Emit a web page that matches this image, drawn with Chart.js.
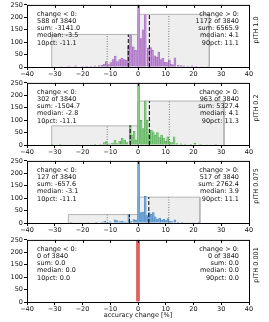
<!DOCTYPE html>
<html>
<head>
<meta charset="utf-8">
<script src="https://cdn.jsdelivr.net/npm/chart.js@4.4.0/dist/chart.umd.min.js"></script>
<style>
  body { margin: 0; background: #fff; }
  #wrap { position: relative; width: 269px; height: 322px; }
  canvas { position: absolute; left: 0; }
</style>
</head>
<body>
<div id="wrap">
  <canvas id="c0" width="269" height="78" style="top:0px"></canvas>
  <canvas id="c1" width="269" height="78" style="top:78px"></canvas>
  <canvas id="c2" width="269" height="78" style="top:156px"></canvas>
  <canvas id="c3" width="269" height="87" style="top:235px"></canvas>
</div>
<script>
// histogram bins (bin centre, accuracy change in %) and counts per panel
const binsP1 = [-31, -27.5, -25, -22.5, -20, -18.5, -17, -15.5, -14, -13, -12.2, -11.4, -10.6, -9.8, -9, -8.2, -7.4, -6.6, -5.8, -5, -4.2, -3.4, -2.7, -1.7, -0.9, 0.2, 1.1, 1.8, 2.6, 3.7, 4.5, 5.2, 6, 6.8, 7.5, 8.3, 9, 9.8, 10.5, 11.3, 12, 12.7, 13.3, 14.5, 15.5, 16.5, 18, 19.5, 21, 23, 25];
const countsP1 = [2, 2, 4, 5, 3, 4, 3, 5, 6, 8, 12, 22, 10, 18, 30, 44, 22, 30, 35, 30, 28, 85, 128, 81, 67, 300, 114, 150, 210, 76, 78, 67, 45, 40, 60, 30, 35, 20, 18, 28, 12, 9, 37, 8, 6, 5, 4, 5, 3, 2, 2];

const binsP2 = [-31, -28, -22, -17, -15.5, -13.5, -12.2, -11.4, -10.3, -9.2, -8.3, -7.5, -6.6, -5.7, -4.8, -4, -2.8, -2.1, -1.4, -0.7, 0.2, 1.1, 1.8, 2.6, 3.3, 4, 4.8, 5.5, 6.2, 7, 7.8, 8.5, 9.2, 10, 10.7, 11.5, 12.3, 13, 14, 15.5, 17, 19, 20.5, 22.5, 25, 28];
const countsP2 = [1, 1, 2, 2, 3, 4, 10, 14, 5, 8, 20, 6, 15, 27, 20, 10, 79, 40, 55, 20, 300, 99, 66, 178, 99, 45, 60, 53, 40, 50, 30, 40, 27, 15, 33, 12, 10, 33, 6, 5, 4, 3, 7, 4, 2, 1];

const binsP3 = [-24, -21, -18, -15, -13, -12, -11, -10, -8.3, -7.5, -6.5, -5.8, -5, -4.2, -3.3, -2.5, -1.5, -0.7, 0.2, 1.1, 1.8, 2.6, 3.2, 4, 4.7, 5.5, 6.2, 7, 7.8, 8.5, 9.3, 10, 10.8, 11.5, 12.3, 13.3, 14.5, 16, 18, 20, 22];
const countsP3 = [1, 2, 2, 3, 4, 8, 3, 5, 13, 10, 6, 8, 5, 4, 34, 6, 14, 12, 300, 42, 44, 107, 30, 42, 35, 42, 25, 15, 20, 12, 15, 10, 18, 8, 6, 13, 4, 3, 2, 2, 1];

const binsP4 = [0];
const countsP4 = [3840];

const panelLabels = ['pITH 1.0', 'pITH 0.2', 'pITH 0.075', 'pITH 0.001'];

// summary boxes: left box spans [boxNegStart, 0], right box [0, boxPosEnd]
const boxNegStart = [-31.1, -31.1, -25.1, null];
const boxPosEnd = [25.7, 31.0, 22.3, null];
const boxNegHeight = [131, 77, 34, 0];
const boxPosHeight = [212, 177, 104, 0];

const medianNeg = [-3.5, -2.8, -3.1, 0.0];
const medianPos = [4.1, 4.1, 3.9, 0.0];
const pct10 = [-11.1, -11.1, -11.1, 0.0];
const pct90 = [11.1, 11.3, 11.1, 0.0];

const countNeg = [588, 302, 127, 0];
const countPos = [1172, 963, 517, 0];
const sumNeg = [-3141.0, -1504.7, -657.6, 0.0];
const sumPos = [6565.9, 5327.4, 2762.4, 0.0];
const total = 3840;

const barFill = ['#c391d6', '#88cd88', '#78acdb', '#e35d5d'];
const barEdge = ['#9d62bb', '#4fa64f', '#4382c0', '#d53a3a'];

const allBins = [binsP1, binsP2, binsP3, binsP4];
const allCounts = [countsP1, countsP2, countsP3, countsP4];

const FONT = '"DejaVu Sans", sans-serif';

// Draws the frame, inner top ticks, stats text and the right-hand label
const makeDecor = (i) => ({
    id: 'decor' + i,
    afterDatasetsDraw(chart) {
        const { ctx, chartArea: a } = chart;
        const xs = chart.scales.x;
        ctx.save();
        ctx.strokeStyle = '#000';
        ctx.lineWidth = 1;
        ctx.strokeRect(a.left + 0.5, a.top + 0.5, a.right - a.left, a.bottom - a.top);
        ctx.beginPath();
        for (let v = -30; v <= 30; v += 10) {
            const px = Math.round(xs.getPixelForValue(v)) + 0.5;
            ctx.moveTo(px, a.top);
            ctx.lineTo(px, a.top + 3);
        }
        ctx.stroke();

        const neg = [
            'change < 0:',
            `${countNeg[i]} of ${total}`,
            `sum: ${sumNeg[i].toFixed(1)}`,
            `median: ${medianNeg[i].toFixed(1)}`,
            `10pct: ${pct10[i].toFixed(1)}`
        ];
        const pos = [
            'change > 0:',
            `${countPos[i]} of ${total}`,
            `sum: ${sumPos[i].toFixed(1)}`,
            `median: ${medianPos[i].toFixed(1)}`,
            `90pct: ${pct90[i].toFixed(1)}`
        ];
        ctx.fillStyle = '#111';
        ctx.font = '6.5px ' + FONT;
        ctx.textBaseline = 'middle';
        ctx.textAlign = 'left';
        neg.forEach((t, k) => ctx.fillText(t, a.left + 10, a.top + 9 + k * 7.3));
        ctx.textAlign = 'right';
        pos.forEach((t, k) => ctx.fillText(t, a.right - 10, a.top + 9 + k * 7.3));

        ctx.save();
        ctx.translate(256, (a.top + a.bottom) / 2 - 6);
        ctx.rotate(-Math.PI / 2);
        ctx.textAlign = 'center';
        ctx.fillText(panelLabels[i], 0, 0);
        ctx.restore();

        if (i === 3) {
            ctx.textAlign = 'center';
            ctx.fillText('accuracy change [%]', (a.left + a.right) / 2, 80);
        }
        ctx.restore();
    }
});

// vertical marker line from 0 up to height h
const vline = (x, h, dash, color) => ({
    type: 'line',
    data: [{ x: x, y: 0 }, { x: x, y: h }],
    borderColor: color,
    borderWidth: 1,
    borderDash: dash,
    pointRadius: 0,
    fill: false,
    order: 1
});

const box = (x0, x1, h) => ({
    type: 'line',
    data: [{ x: x0, y: 0 }, { x: x0, y: h }, { x: x1, y: h }, { x: x1, y: 0 }],
    borderColor: '#b4b4b4',
    borderWidth: 1,
    backgroundColor: '#eeeeee',
    pointRadius: 0,
    tension: 0,
    fill: 'origin',
    order: 3
});

for (let i = 0; i < 4; i++) {
    const datasets = [{
        type: 'bar',
        data: allBins[i].map((b, k) => ({ x: b, y: allCounts[i][k] })),
        backgroundColor: barFill[i],
        borderColor: barEdge[i],
        borderWidth: 0.6,
        barThickness: i === 3 ? 3 : 2,
        order: 2
    }];
    if (countNeg[i] > 0) {
        datasets.push(box(boxNegStart[i], 0, boxNegHeight[i]));
        datasets.push(box(0, boxPosEnd[i], boxPosHeight[i]));
        datasets.push(vline(medianNeg[i], boxNegHeight[i], [4, 2], '#000'));
        datasets.push(vline(medianPos[i], boxPosHeight[i], [4, 2], '#000'));
        datasets.push(vline(pct10[i], boxNegHeight[i], [1, 1.5], '#777'));
        datasets.push(vline(pct90[i], boxPosHeight[i], [1, 1.5], '#777'));
    }

    new Chart(document.getElementById('c' + i), {
        type: 'bar',
        data: { datasets: datasets },
        options: {
            responsive: false,
            animation: false,
            devicePixelRatio: 1,
            layout: { padding: { top: 4, right: 20, left: 0, bottom: i === 3 ? 9 : 0 } },
            plugins: { legend: { display: false }, tooltip: { enabled: false } },
            scales: {
                x: {
                    type: 'linear',
                    min: -40,
                    max: 40,
                    offset: false,
                    grid: { drawOnChartArea: false, offset: false, tickLength: 3, color: '#000' },
                    border: { display: false },
                    ticks: {
                        stepSize: 10,
                        padding: 0,
                        color: '#111',
                        font: { family: FONT, size: 6.5 },
                        maxRotation: 0,
                        callback: (v) => (v < 0 ? '\u2212' + Math.abs(v) : '' + v)
                    },
                    afterFit: (s) => { s.height = 11; }
                },
                y: {
                    min: 0,
                    max: 250,
                    grid: { drawOnChartArea: false, tickLength: 3, color: '#000' },
                    border: { display: false },
                    ticks: { stepSize: 50, padding: 1, color: '#111', font: { family: FONT, size: 6.5 } },
                    afterFit: (s) => { s.width = 27; }
                }
            }
        },
        plugins: [makeDecor(i)]
    });
}
</script>
</body>
</html>
